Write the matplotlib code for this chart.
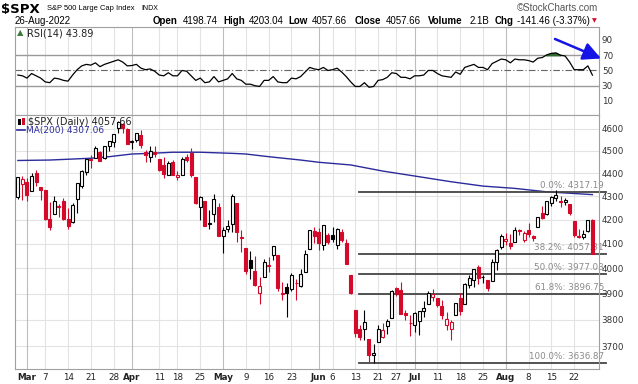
import numpy as np
import pandas as pd
import matplotlib
matplotlib.use("Agg")
import matplotlib.pyplot as plt
from matplotlib.patches import Rectangle
from matplotlib.transforms import blended_transform_factory

W, H = 638, 384

# trading days Feb 25 - Aug 26 2022
holidays = ["2022-04-15", "2022-05-30", "2022-06-20", "2022-07-04"]
days = pd.bdate_range("2022-02-25", "2022-08-26")
days = days[~days.isin(pd.to_datetime(holidays))]
day_str = list(days.strftime("%Y-%m-%d"))

prev_close0 = 4288.70  # Feb 24 close

opens = [
    4298.38, 4354.17,
    4363.14, 4322.56, 4401.31, 4342.12, 4327.01, 4202.66, 4223.10, 4252.55, 4279.50, 4202.75, 4188.82, 4288.14,
    4345.11, 4407.34, 4462.40, 4469.10, 4493.10, 4469.98, 4522.66, 4541.09, 4602.86, 4624.20, 4599.02,
    4540.32, 4547.97, 4572.45, 4494.17, 4474.65, 4494.15, 4462.64, 4437.59, 4394.30, 4449.12, 4385.63, 4390.63,
    4472.26, 4489.17, 4385.83, 4255.34, 4278.14, 4186.52, 4222.58, 4253.75,
    4130.61, 4159.78, 4181.18, 4270.43, 4128.17, 4081.27, 4035.18, 3990.08, 3903.95, 3963.90, 4013.02, 4052.00,
    4051.98, 3899.00, 3927.76, 3919.42, 3942.94, 3929.59, 3984.60, 4077.43, 4151.09,
    4149.78, 4095.41, 4137.57, 4134.72, 4096.47, 4147.12, 4101.65, 3974.39, 3838.15, 3763.52, 3764.05, 3728.18,
    3665.90, 3715.31, 3733.89, 3774.71, 3805.12, 3920.76, 3913.00, 3825.09, 3785.99,
    3781.00, 3792.61, 3831.98, 3858.85, 3888.26, 3880.94, 3851.95, 3779.67, 3763.99, 3818.00, 3883.79, 3860.73,
    3935.32, 3955.47, 4007.36, 3965.72, 3953.22, 3951.43, 4026.13, 4087.33,
    4112.38, 4104.21, 4107.96, 4154.85, 4115.87, 4155.93, 4133.11, 4170.94, 4227.40, 4225.02, 4269.37, 4290.46,
    4280.40, 4273.13, 4266.31, 4195.08, 4133.09, 4126.55, 4153.26, 4198.74,
]
highs = [
    4385.34, 4388.84,
    4378.45, 4401.48, 4416.78, 4342.12, 4327.01, 4276.94, 4299.40, 4268.28, 4291.01, 4247.57, 4271.05, 4357.86,
    4412.67, 4465.40, 4481.75, 4522.00, 4501.07, 4520.58, 4546.03, 4575.65, 4637.30, 4627.77, 4603.07,
    4548.70, 4583.50, 4593.45, 4503.94, 4521.16, 4520.41, 4464.35, 4471.00, 4453.92, 4460.46, 4410.31, 4471.03,
    4488.29, 4512.94, 4385.83, 4299.02, 4278.14, 4240.71, 4308.45, 4269.68,
    4169.81, 4200.10, 4307.66, 4270.43, 4157.69, 4081.27, 4068.82, 4049.09, 3964.80, 4038.88, 4046.46, 4090.72,
    4051.98, 3945.96, 3943.42, 3981.88, 3955.68, 3999.33, 4075.14, 4158.49, 4168.34,
    4166.54, 4177.51, 4142.67, 4168.78, 4164.86, 4160.14, 4119.10, 3974.39, 3838.15, 3778.18, 3837.56, 3728.18,
    3707.71, 3779.65, 3785.99, 3802.58, 3913.65, 3927.72, 3945.86, 3836.50, 3818.99,
    3829.82, 3832.19, 3870.91, 3910.63, 3918.50, 3880.94, 3873.41, 3829.44, 3796.41, 3863.62, 3902.44, 3939.81,
    3974.13, 3999.29, 4012.44, 3975.30, 3953.22, 4039.56, 4078.95, 4140.15,
    4144.95, 4140.47, 4167.66, 4161.29, 4151.58, 4186.62, 4137.30, 4211.03, 4257.91, 4280.47, 4301.79, 4325.28,
    4302.18, 4292.53, 4266.31, 4195.08, 4159.77, 4156.56, 4200.54, 4203.04,
]
lows = [
    4286.83, 4284.80,
    4279.54, 4322.56, 4345.56, 4284.98, 4199.85, 4157.87, 4223.10, 4209.80, 4200.49, 4161.72, 4187.90, 4229.34,
    4335.65, 4390.57, 4424.30, 4469.10, 4455.81, 4465.17, 4501.07, 4517.69, 4581.32, 4581.32, 4530.41,
    4507.57, 4539.21, 4514.17, 4450.04, 4450.30, 4474.60, 4408.38, 4381.34, 4392.70, 4390.77, 4370.30, 4390.63,
    4448.76, 4384.47, 4267.62, 4200.82, 4175.04, 4162.90, 4188.63, 4131.59,
    4062.51, 4147.08, 4148.91, 4106.01, 4067.91, 3975.48, 3958.17, 3928.82, 3858.87, 3963.90, 3983.99, 4033.93,
    3911.91, 3876.58, 3810.32, 3909.04, 3875.13, 3925.03, 3984.60, 4077.43, 4104.88,
    4073.85, 4074.37, 4098.67, 4109.18, 4080.19, 4107.20, 4017.17, 3900.16, 3734.30, 3724.55, 3722.30, 3639.77,
    3636.87, 3715.31, 3729.51, 3743.52, 3805.12, 3889.66, 3820.14, 3799.02, 3738.67,
    3752.10, 3742.06, 3809.37, 3858.85, 3869.34, 3847.22, 3802.36, 3759.07, 3721.56, 3817.18, 3818.63, 3860.73,
    3922.03, 3927.64, 3938.85, 3943.46, 3910.74, 3951.43, 3992.97, 4079.22,
    4096.02, 4079.81, 4107.96, 4135.42, 4107.31, 4128.97, 4112.09, 4170.94, 4201.41, 4219.78, 4256.90, 4277.77,
    4253.08, 4261.98, 4218.70, 4129.86, 4124.03, 4119.97, 4147.59, 4057.66,
]
closes = [
    4384.65, 4373.94,
    4306.26, 4386.54, 4363.49, 4328.87, 4201.09, 4170.70, 4277.88, 4259.52, 4204.31, 4173.11, 4262.45, 4357.86,
    4411.67, 4463.12, 4461.18, 4511.61, 4456.24, 4520.16, 4543.06, 4575.52, 4631.60, 4602.45, 4530.41,
    4545.86, 4582.64, 4525.12, 4481.15, 4500.21, 4488.28, 4412.53, 4397.45, 4446.59, 4392.59, 4391.69, 4462.21,
    4459.45, 4393.66, 4271.78, 4296.12, 4175.20, 4183.96, 4287.50, 4131.93,
    4155.38, 4175.48, 4300.17, 4146.87, 4123.34, 3991.24, 4001.05, 3935.18, 3930.08, 4023.89, 4008.01, 4088.85,
    3923.68, 3900.79, 3901.36, 3973.75, 3941.48, 3978.73, 4057.84, 4158.24, 4132.15,
    4101.23, 4176.82, 4108.54, 4121.43, 4160.68, 4115.77, 4017.82, 3900.86, 3749.63, 3735.48, 3789.99, 3666.77,
    3674.84, 3764.79, 3759.89, 3795.73, 3911.74, 3900.11, 3821.55, 3818.83, 3785.38,
    3825.33, 3831.39, 3845.08, 3902.62, 3899.38, 3854.43, 3818.80, 3801.78, 3790.38, 3863.16, 3830.85, 3936.69,
    3959.90, 3998.95, 3961.63, 3966.84, 3921.05, 4023.61, 4072.43, 4130.29,
    4118.63, 4091.19, 4155.17, 4151.94, 4145.19, 4140.06, 4122.47, 4210.24, 4207.27, 4280.15, 4297.14, 4305.20,
    4274.04, 4283.74, 4228.48, 4137.99, 4128.73, 4140.77, 4199.12, 4057.66,
]

# RSI(14), one value per trading day
rsi = [
    44, 43,
    40, 46, 43, 40, 35, 34, 40, 39, 37, 36, 44, 51, 56, 58, 57, 60, 55, 58, 60, 62, 64, 61, 56,
    56.5, 58, 53, 51, 52, 49, 44, 43, 47, 43, 43, 50, 49, 43, 37, 40, 34, 35, 42, 35,
    37, 39, 46, 39, 37, 32, 32, 30, 29, 37, 37, 42, 35, 34, 34, 40, 39, 42, 48, 54, 52,
    51, 54, 50, 51, 53, 48, 42, 35, 29, 29, 34, 28, 29, 37, 38, 41, 47, 46, 41, 41, 39,
    43, 43, 44, 50, 50, 46, 43, 42, 41, 48, 45, 54, 56, 58, 54, 54, 51, 59, 62, 65,
    64, 60, 65, 64, 64, 63, 61, 66, 67, 70.5, 72.5, 73, 70, 69, 61, 51, 51, 51, 56, 43.89,
]

# 200-day moving average, read at roughly weekly points
ma_dates = ["2022-02-25", "2022-03-08", "2022-03-21", "2022-03-25", "2022-04-01", "2022-04-07", "2022-04-14",
            "2022-04-25", "2022-05-04", "2022-05-09", "2022-05-16", "2022-05-25", "2022-06-01", "2022-06-10",
            "2022-06-22", "2022-07-05", "2022-07-14", "2022-07-25", "2022-08-03", "2022-08-12", "2022-08-26"]
ma_vals = [4457, 4459, 4467, 4474, 4486, 4489, 4494, 4494, 4489, 4486, 4474, 4459, 4449, 4437,
           4410, 4385, 4363, 4344, 4334, 4319, 4307.06]

fib_levels = [4317.19, 4057.31, 3977.03, 3896.75, 3636.87]
fib_labels = ["0.0%: 4317.19", "38.2%: 4057.31", "50.0%: 3977.03", "61.8%: 3896.75", "100.0%: 3636.87"]
fib_start = "2022-06-14"

tick_dates = ["2022-03-01", "2022-03-07", "2022-03-14", "2022-03-21", "2022-03-28", "2022-04-01", "2022-04-11",
              "2022-04-18", "2022-04-25", "2022-05-02", "2022-05-09", "2022-05-16", "2022-05-23", "2022-06-01",
              "2022-06-06", "2022-06-13", "2022-06-21", "2022-06-27", "2022-07-01", "2022-07-11", "2022-07-18",
              "2022-07-25", "2022-08-01", "2022-08-08", "2022-08-15", "2022-08-22"]
tick_labels = ["Mar", "7", "14", "21", "28", "Apr", "11", "18", "25", "May", "9", "16", "23", "Jun", "6",
               "13", "21", "27", "Jul", "11", "18", "25", "Aug", "8", "15", "22"]

price_ticks = [3700, 3800, 3900, 4000, 4100, 4200, 4300, 4400, 4500, 4600]
rsi_ticks = [10, 30, 50, 70, 90]

assert len(day_str) == len(opens) == len(highs) == len(lows) == len(closes) == len(rsi), \
    (len(day_str), len(opens), len(highs), len(lows), len(closes), len(rsi))

RED = "#d40a2a"
GRID = "#e3e3e3"
MGRID = "#bdbdbd"
NAVY = "#2b2b9c"

fig = plt.figure(figsize=(W / 100, H / 100), dpi=100)
ax_r = fig.add_axes([15 / W, 1 - 115 / H, 584 / W, 88 / H])
ax = fig.add_axes([15 / W, 1 - 369 / H, 584 / W, 254 / H])

pos = np.arange(len(day_str))
xi = {d: i for i, d in enumerate(day_str)}
tick_pos = [xi[d] for d in tick_dates]
xlim = (-0.63, 127.44)

# ---- candles
prev = [prev_close0] + closes[:-1]
for i in pos:
    o, h, l, c = opens[i], highs[i], lows[i], closes[i]
    col = "black" if c >= prev[i] else RED
    hollow = c > o
    ax.vlines(i, l, h, color=col, lw=0.8, zorder=3)
    ax.add_patch(Rectangle((i - 0.33, min(o, c)), 0.66, abs(c - o),
                           facecolor="white" if hollow else col, edgecolor=col, lw=0.8, zorder=4))

ax.plot([xi[d] for d in ma_dates], ma_vals, color=NAVY, lw=1.0, zorder=2)

# fibonacci lines
fx0 = xi[fib_start] - 0.2
for lvl, lab in zip(fib_levels, fib_labels):
    ax.plot([fx0, 128.9], [lvl, lvl], color="#444444", lw=1.3, zorder=2, clip_on=False)
    ax.annotate(lab, xy=(604 / W, lvl), xycoords=blended_transform_factory(fig.transFigure, ax.transData),
                xytext=(0, 1.8), textcoords="offset points", ha="right", va="bottom",
                fontsize=6.3, color="#8a8a8a", zorder=1, annotation_clip=False)

ax.set_yscale("log")
ax.set_ylim(3616, 4665)
ax.set_xlim(*xlim)
for p in price_ticks:
    ax.axhline(p, color=GRID, lw=0.8, zorder=0)

# ---- RSI
ax_r.plot(pos, rsi, color="black", lw=0.9, zorder=3)
r = np.array(rsi, dtype=float)
ax_r.fill_between(pos, r, 70, where=r > 70, interpolate=True, color="#2f6b2f", zorder=2)
ax_r.axhline(70, color="#9a9a9a", lw=1.0, zorder=1)
ax_r.axhline(30, color="#9a9a9a", lw=1.0, zorder=1)
ax_r.axhline(50, color="#666666", lw=0.8, ls=(0, (6, 2, 1, 2)), zorder=1)
ax_r.set_ylim(-8.4, 107)
ax_r.set_xlim(*xlim)

for a in (ax, ax_r):
    for t, lab in zip(tick_pos, tick_labels):
        month = not lab.isdigit()
        a.axvline(t, color=MGRID if month else GRID, lw=0.8, zorder=0)
    for s in a.spines.values():
        s.set_color("#a0a0a0")
        s.set_linewidth(0.8)
    a.yaxis.tick_right()
    a.tick_params(axis="y", length=0, pad=2, labelsize=6.3, labelcolor="#333333")
    a.tick_params(axis="x", length=0)

ax.yaxis.set_major_locator(matplotlib.ticker.FixedLocator(price_ticks))
ax.yaxis.set_minor_locator(matplotlib.ticker.NullLocator())
ax.yaxis.set_major_formatter(matplotlib.ticker.FixedFormatter([str(p) for p in price_ticks]))
ax_r.set_yticks(rsi_ticks)
ax_r.set_xticks([])

ax.set_xticks(tick_pos)
ax.set_xticklabels(tick_labels)
ax.tick_params(axis="x", pad=3, labelsize=6.3, labelcolor="#222222")
for tl, lab in zip(ax.get_xticklabels(), tick_labels):
    if not lab.isdigit():
        tl.set_fontweight("bold")


def ftxt(x, y, s, **kw):
    kw.setdefault("va", "center")
    kw.setdefault("fontsize", 7)
    fig.text(x / W, 1 - y / H, s, **kw)


def fbox(x, y, w, h, **kw):
    fig.add_artist(Rectangle((x / W, 1 - (y + h) / H), w / W, h / H, transform=fig.transFigure, **kw))


HDR = ["Liberation Sans", "DejaVu Sans"]
ftxt(1, 9, "$SPX", fontsize=9.5, fontweight="bold")
ftxt(47, 8, "S&P 500 Large Cap Index", fontsize=5.4, family=HDR)
ftxt(141, 8.5, "INDX", fontsize=5.0, family=HDR)
ftxt(598, 8, "\u00a9StockCharts.com", fontsize=7, family=HDR, color="#555555", ha="right")
ftxt(15, 21, "26-Aug-2022", fontsize=7, family=HDR)

hdr_parts = [("Open", 153, True), ("4198.74", 183, False), ("High", 223, True), ("4203.04", 249, False),
             ("Low", 288, True), ("4057.66", 312, False), ("Close", 355, True), ("4057.66", 386, False),
             ("Volume", 428, True), ("2.1B", 470, False), ("Chg", 495, True), ("-141.46 (-3.37%)", 517, False)]
for s, x, b in hdr_parts:
    ftxt(x, 20.5, s, fontsize=7.0, family=HDR, fontweight="bold" if b else "normal")
ftxt(592, 20.5, "\u25bc", fontsize=4.5, color=RED)

# panel legends
ftxt(17, 33, "\u25b2", fontsize=6, color="#3d7a3d")
ftxt(27, 33, "RSI(14) 43.89", fontsize=7, color="#222222")
fbox(18, 119, 2.5, 6, color="black", lw=0)
fbox(22.5, 118, 2.5, 7, color=RED, lw=0)
ftxt(28, 122, "$SPX (Daily) 4057.66", fontsize=7, color="#222222")
fig.add_artist(matplotlib.lines.Line2D([17 / W, 25 / W], [1 - 130 / H, 1 - 130 / H], color=NAVY, lw=1.2))
ftxt(26, 130, "MA(200) 4307.06", fontsize=6.5, color=NAVY)

# blue arrow
ax_r.annotate("", xy=(601 / W, 1 - 58.5 / H), xytext=(555 / W, 1 - 39 / H),
              xycoords="figure fraction", textcoords="figure fraction",
              arrowprops=dict(arrowstyle="-|>,head_length=0.9,head_width=0.45", color="#1414e6",
                              lw=1.8, mutation_scale=12, shrinkA=0, shrinkB=0),
              annotation_clip=False)

fig.savefig("out.png", dpi=100)
